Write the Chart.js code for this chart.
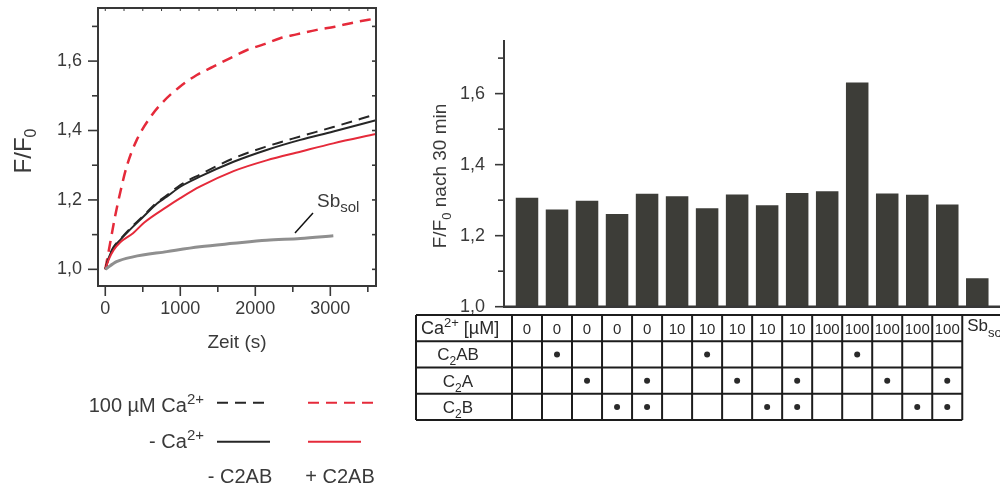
<!DOCTYPE html>
<html>
<head>
<meta charset="utf-8">
<script src="https://cdn.jsdelivr.net/npm/chart.js@4.4.0/dist/chart.umd.min.js"></script>
<style>
  body { margin: 0; background: #fff; width: 1000px; height: 488px; overflow: hidden; position: relative; }
  #links { position: absolute; left: 0; top: 0; }
  #rechts { position: absolute; left: 410px; top: 0; }
</style>
</head>
<body>
<canvas id="links" width="400" height="488"></canvas>
<canvas id="rechts" width="590" height="488"></canvas>
<script>
// Zeitverlauf, Punkte als [Zeit in s, F/F0]
var ohneCaOhneC2AB = [[0,1.0],[50,1.035],[110,1.062],[200,1.085],[370,1.123],[510,1.152],[690,1.19],[820,1.209],[1000,1.238],[1260,1.267],[1710,1.31],[2150,1.344],[2600,1.373],[3040,1.397],[3609,1.43]];
var mitCaOhneC2AB = [[0,1.0],[50,1.036],[110,1.064],[200,1.087],[370,1.126],[510,1.155],[690,1.193],[820,1.213],[1000,1.243],[1260,1.273],[1710,1.32],[2150,1.354],[2600,1.383],[3040,1.41],[3609,1.447]];
var ohneCaMitC2AB = [[0,1.0],[50,1.03],[110,1.055],[200,1.078],[370,1.104],[520,1.135],[820,1.18],[1000,1.205],[1260,1.238],[1710,1.283],[2150,1.314],[2600,1.339],[3040,1.363],[3609,1.39]];
var mitCaMitC2AB = [[0,1.0],[40,1.046],[130,1.152],[200,1.222],[285,1.296],[420,1.373],[600,1.438],[750,1.478],[970,1.522],[1220,1.56],[1440,1.584],[1660,1.608],[1890,1.632],[2110,1.648],[2330,1.666],[2550,1.677],[2820,1.69],[3060,1.699],[3310,1.711],[3609,1.723]];
var sbSol = [[0,1.0],[150,1.022],[370,1.036],[820,1.051],[1260,1.065],[1710,1.075],[2150,1.084],[2600,1.089],[3040,1.097]];

var zeitTicks = [0, 1000, 2000, 3000];
var zeitNebenTicks = [500, 1500, 2500, 3500];
var fTicks = [1.0, 1.2, 1.4, 1.6];
var fNebenTicks = [1.1, 1.3, 1.5, 1.7];

// F/F0 nach 30 min, eine Saeule je Spalte der Tabelle
var balkenWerte = [1.307,1.274,1.298,1.261,1.318,1.311,1.277,1.316,1.286,1.320,1.325,1.631,1.319,1.315,1.288,1.080];
var caKonz = ['0','0','0','0','0','10','10','10','10','10','100','100','100','100','100'];
var mitC2AB = [0,1,0,0,0,0,1,0,0,0,0,1,0,0,0];
var mitC2A  = [0,0,1,0,1,0,0,1,0,1,0,0,1,0,1];
var mitC2B  = [0,0,0,1,1,0,0,0,1,1,0,0,0,1,1];

var SCHRIFT = '"Liberation Sans", Arial, sans-serif';
var TEXT = '#3a3a3a';
var ACHSE = '#383838';
var ROT = '#e52a3a';
var SCHWARZ = '#262626';
var GRAU = '#8f8f8f';
var BALKEN = '#3d3d38';

Chart.defaults.font.family = SCHRIFT;
Chart.defaults.color = TEXT;

function punkte(liste) {
  return liste.map(function (p) { return { x: p[0], y: p[1] }; });
}
function komma(v) {
  return v.toFixed(1).replace('.', ',');
}

// Text aus Teilen [text, groesse, versatz] zusammensetzen (fuer Hoch-/Tiefstellung)
function schreibe(ctx, teile, x, y, ausrichtung) {
  var breite = 0;
  teile.forEach(function (t) {
    ctx.font = t[1] + 'px ' + SCHRIFT;
    breite += ctx.measureText(t[0]).width;
  });
  var px = x;
  if (ausrichtung === 'right') px = x - breite;
  if (ausrichtung === 'center') px = x - breite / 2;
  ctx.textAlign = 'left';
  ctx.textBaseline = 'alphabetic';
  teile.forEach(function (t) {
    ctx.font = t[1] + 'px ' + SCHRIFT;
    ctx.fillText(t[0], px, y + (t[2] || 0));
    px += ctx.measureText(t[0]).width;
  });
}

function strich(ctx, x1, y1, x2, y2) {
  ctx.beginPath();
  ctx.moveTo(x1, y1);
  ctx.lineTo(x2, y2);
  ctx.stroke();
}

// y-Achse ohne Zusatzabstand oben/unten, damit die Zeichenflaeche bei der Layout-Polsterung bleibt
function festeBreite(breite) {
  return function (s) {
    s.width = breite;
    s.paddingTop = 0;
    s.paddingBottom = 0;
  };
}

// Rahmen, Ticks, Beschriftung und Legende links
var linksZeichnen = {
  id: 'linksZeichnen',
  afterDraw: function (chart) {
    var ctx = chart.ctx, a = chart.chartArea, xs = chart.scales.x, ys = chart.scales.y;
    ctx.save();
    ctx.strokeStyle = ACHSE;
    ctx.lineWidth = 2;
    ctx.strokeRect(a.left, a.top, a.right - a.left, a.bottom - a.top);
    ctx.lineWidth = 1.6;
    fTicks.forEach(function (v) {
      var y = ys.getPixelForValue(v);
      strich(ctx, a.left - 10, y, a.left, y);
      strich(ctx, a.right, y, a.right - 4, y);
    });
    fNebenTicks.forEach(function (v) {
      var y = ys.getPixelForValue(v);
      strich(ctx, a.left - 6, y, a.left, y);
      strich(ctx, a.right, y, a.right - 4, y);
    });
    zeitTicks.forEach(function (t) {
      var x = xs.getPixelForValue(t);
      strich(ctx, x, a.bottom, x, a.bottom + 10);
    });
    zeitNebenTicks.forEach(function (t) {
      var x = xs.getPixelForValue(t);
      strich(ctx, x, a.bottom, x, a.bottom + 6);
    });
    ctx.lineWidth = 1;
    for (var t = 0; t <= 3500; t += 250) {
      var xt = xs.getPixelForValue(t);
      strich(ctx, xt, a.top, xt, a.top + 3);
    }

    ctx.fillStyle = TEXT;
    // Achsentitel
    ctx.save();
    ctx.translate(31, 151);
    ctx.rotate(-Math.PI / 2);
    schreibe(ctx, [['F/F', 24], ['0', 16, 5]], 0, 0, 'center');
    ctx.restore();
    schreibe(ctx, [['Zeit (s)', 19]], (a.left + a.right) / 2, 348, 'center');

    // Sb_sol mit Hinweisstrich
    ctx.strokeStyle = '#111';
    ctx.lineWidth = 1.5;
    strich(ctx, xs.getPixelForValue(2529), ys.getPixelForValue(1.105), xs.getPixelForValue(2769), ys.getPixelForValue(1.162));
    schreibe(ctx, [['Sb', 19], ['sol', 15, 5]], xs.getPixelForValue(2823), ys.getPixelForValue(1.179), 'left');

    // Legende
    var ds = chart.data.datasets;
    function legLinie(d, x1, x2, y) {
      ctx.save();
      ctx.strokeStyle = d.borderColor;
      ctx.lineWidth = 2;
      ctx.setLineDash(d.borderDash || []);
      strich(ctx, x1, y, x2, y);
      ctx.restore();
    }
    schreibe(ctx, [['100 µM Ca', 20], ['2+', 15, -8]], 204, 411.5, 'right');
    legLinie(ds[3], 217, 271, 402.7);
    legLinie(ds[4], 308, 374, 402.7);
    schreibe(ctx, [['- Ca', 20], ['2+', 15, -8]], 204, 448, 'right');
    legLinie(ds[2], 217, 270, 441.7);
    legLinie(ds[1], 308, 361, 441.7);
    schreibe(ctx, [['- C2AB', 20]], 240, 483, 'center');
    schreibe(ctx, [['+ C2AB', 20]], 340, 483, 'center');
    ctx.restore();
  }
};

new Chart(document.getElementById('links'), {
  type: 'line',
  data: {
    datasets: [
      { label: 'Sbsol', data: punkte(sbSol), borderColor: GRAU, borderWidth: 3 },
      { label: '- Ca2+ + C2AB', data: punkte(ohneCaMitC2AB), borderColor: ROT, borderWidth: 2 },
      { label: '- Ca2+ - C2AB', data: punkte(ohneCaOhneC2AB), borderColor: SCHWARZ, borderWidth: 2 },
      { label: '100 µM Ca2+ - C2AB', data: punkte(mitCaOhneC2AB), borderColor: SCHWARZ, borderWidth: 2, borderDash: [11, 7] },
      { label: '100 µM Ca2+ + C2AB', data: punkte(mitCaMitC2AB), borderColor: ROT, borderWidth: 2.5, borderDash: [11, 7] }
    ]
  },
  options: {
    responsive: false,
    animation: false,
    layout: { padding: { left: 0, top: 8, right: 24, bottom: 122 } },
    elements: {
      point: { radius: 0 },
      line: { cubicInterpolationMode: 'monotone', fill: false }
    },
    plugins: { legend: { display: false }, tooltip: { enabled: false } },
    scales: {
      x: {
        type: 'linear', min: -97, max: 3609,
        grid: { display: false, drawTicks: false },
        border: { display: false },
        afterBuildTicks: function (s) { s.ticks = zeitTicks.map(function (v) { return { value: v }; }); },
        afterFit: function (s) { s.height = 80; s.paddingLeft = 0; s.paddingRight = 0; },
        ticks: { font: { size: 18 }, color: TEXT, padding: 12, maxRotation: 0, callback: function (v) { return String(v); } }
      },
      y: {
        type: 'linear', min: 0.952, max: 1.753,
        grid: { display: false, drawTicks: false },
        border: { display: false },
        afterBuildTicks: function (s) { s.ticks = fTicks.map(function (v) { return { value: v }; }); },
        afterFit: festeBreite(98),
        ticks: { font: { size: 18 }, color: TEXT, padding: 16, callback: function (v) { return komma(v); } }
      }
    }
  },
  plugins: [linksZeichnen]
});

// Achsen, Titel und Tabelle unter den Saeulen
var rechtsZeichnen = {
  id: 'rechtsZeichnen',
  afterDraw: function (chart) {
    var ctx = chart.ctx, a = chart.chartArea, xs = chart.scales.x, ys = chart.scales.y;
    ctx.save();
    ctx.strokeStyle = ACHSE;
    ctx.lineWidth = 2;
    strich(ctx, a.left, a.top, a.left, a.bottom);
    ctx.lineWidth = 2.5;
    strich(ctx, a.left - 1, a.bottom, a.right, a.bottom);
    ctx.lineWidth = 1.6;
    fTicks.forEach(function (v) {
      var y = ys.getPixelForValue(v);
      strich(ctx, a.left - 9, y, a.left, y);
    });
    fNebenTicks.forEach(function (v) {
      var y = ys.getPixelForValue(v);
      strich(ctx, a.left - 6, y, a.left, y);
    });

    ctx.fillStyle = TEXT;
    ctx.save();
    ctx.translate(36, 176);
    ctx.rotate(-Math.PI / 2);
    schreibe(ctx, [['F/F', 19], ['0', 13, 5], [' nach 30 min', 19]], 0, 0, 'center');
    ctx.restore();

    // Tabelle
    var kanten = [];
    for (var k = 0; k <= balkenWerte.length; k++) kanten.push(xs.getPixelForValue(k + 0.5));
    var links = 6, oben = a.bottom + 8.3, zh = 26.25;
    var rechtsEnde = kanten[caKonz.length];
    ctx.strokeStyle = '#1c1c1c';
    ctx.lineWidth = 2;
    strich(ctx, links, oben, a.right, oben);
    for (var r = 1; r <= 4; r++) strich(ctx, links, oben + r * zh, rechtsEnde, oben + r * zh);
    strich(ctx, links, oben, links, oben + 4 * zh);
    for (var c = 0; c <= caKonz.length; c++) strich(ctx, kanten[c], oben, kanten[c], oben + 4 * zh);

    ctx.fillStyle = '#2a2a2a';
    schreibe(ctx, [['Ca', 18], ['2+', 13, -7], [' [µM]', 18]], links + 5, oben + 19, 'left');
    var mitte0 = (links + kanten[0]) / 2 - 6;
    schreibe(ctx, [['C', 17], ['2', 12, 5], ['AB', 17]], mitte0, oben + zh + 19, 'center');
    schreibe(ctx, [['C', 17], ['2', 12, 5], ['A', 17]], mitte0, oben + 2 * zh + 19, 'center');
    schreibe(ctx, [['C', 17], ['2', 12, 5], ['B', 17]], mitte0, oben + 3 * zh + 19, 'center');

    var zeilen = [mitC2AB, mitC2A, mitC2B];
    caKonz.forEach(function (ca, i) {
      var mx = (kanten[i] + kanten[i + 1]) / 2;
      schreibe(ctx, [[ca, 15]], mx, oben + 18.5, 'center');
      zeilen.forEach(function (z, j) {
        if (!z[i]) return;
        ctx.beginPath();
        ctx.arc(mx, oben + (j + 1.5) * zh, 3, 0, Math.PI * 2);
        ctx.fill();
      });
    });
    schreibe(ctx, [['Sb', 17], ['sol', 13, 6]], rechtsEnde + 5, oben + 16, 'left');
    ctx.restore();
  }
};

new Chart(document.getElementById('rechts'), {
  type: 'bar',
  data: {
    datasets: [{
      label: 'F/F0 nach 30 min',
      data: balkenWerte.map(function (v, i) { return { x: i + 1, y: v }; }),
      backgroundColor: BALKEN,
      base: 1.0,
      barPercentage: 0.75,
      categoryPercentage: 1.0
    }]
  },
  options: {
    responsive: false,
    animation: false,
    layout: { padding: { left: 0, top: 40, right: 0, bottom: 181.3 } },
    plugins: { legend: { display: false }, tooltip: { enabled: false } },
    scales: {
      x: { type: 'linear', min: 0.234, max: 16.757, offset: false, display: false },
      y: {
        type: 'linear', min: 1.0, max: 1.751,
        grid: { display: false, drawTicks: false },
        border: { display: false },
        afterBuildTicks: function (s) { s.ticks = fTicks.map(function (v) { return { value: v }; }); },
        afterFit: festeBreite(94),
        ticks: { font: { size: 18 }, color: TEXT, padding: 19, callback: function (v) { return komma(v); } }
      }
    }
  },
  plugins: [rechtsZeichnen]
});
</script>
</body>
</html>
